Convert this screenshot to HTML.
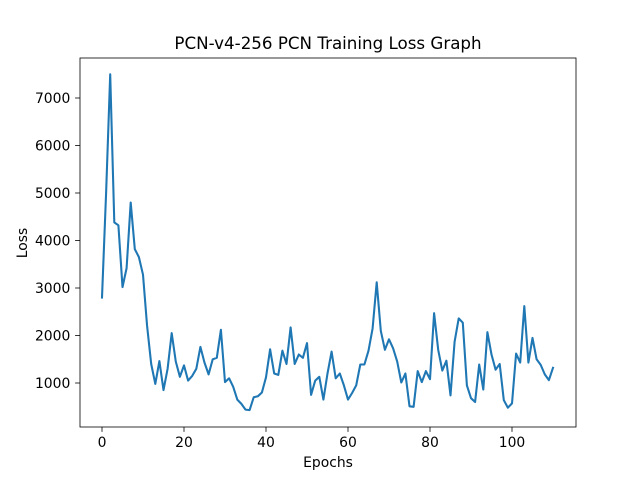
<!DOCTYPE html>
<html><head><meta charset="utf-8"><style>
body{margin:0;background:#fff;font-family:"DejaVu Sans","Liberation Sans",sans-serif}
svg text{font-family:"DejaVu Sans","Liberation Sans",sans-serif;fill:#000}
</style></head><body>
<svg id="chart" width="640" height="480" viewBox="0 0 640 480">
<rect width="640" height="480" fill="#fff"/>
<text x="328" y="49" font-size="16.7" text-anchor="middle">PCN-v4-256 PCN Training Loss Graph</text>
<g id="ticks"></g>
<path id="line" fill="none" stroke="#1f77b4" stroke-width="2.08" stroke-linejoin="round" stroke-linecap="square"/>
<rect x="80" y="58" width="496" height="369" fill="none" stroke="#000" stroke-width="0.8"/>
<text x="328" y="467" font-size="13.9" text-anchor="middle">Epochs</text>
<text x="0" y="0" font-size="13.9" text-anchor="middle" transform="translate(27,243) rotate(-90)">Loss</text>
</svg>
<script>
const lossValues=[2800,5000,7500,4380,4320,3020,3420,4800,3820,3650,3280,2200,1400,980,1460,850,1300,2050,1450,1130,1370,1050,1150,1300,1760,1430,1180,1500,1530,2120,1020,1100,920,650,560,440,430,700,720,800,1120,1710,1200,1170,1680,1400,2170,1400,1600,1530,1840,750,1050,1130,650,1200,1660,1100,1200,950,650,790,950,1390,1390,1680,2150,3120,2100,1700,1920,1730,1450,1010,1200,510,500,1250,1020,1250,1080,2470,1700,1260,1470,740,1870,2360,2270,950,680,600,1390,860,2070,1600,1280,1400,640,480,570,1620,1430,2620,1430,1950,1500,1380,1180,1060,1320];
const xTicks=[0,20,40,60,80,100];
const yTicks=[1000,2000,3000,4000,5000,6000,7000];
const xs=v=>102+v*4.1;
const ys=v=>430.5-v*0.0475;
const NS='http://www.w3.org/2000/svg';
const g=document.getElementById('ticks');
function mk(t,a){const e=document.createElementNS(NS,t);for(const k in a)e.setAttribute(k,a[k]);g.appendChild(e);return e;}
xTicks.forEach(v=>{
 const l=mk('line',{x1:xs(v),x2:xs(v),y1:427,y2:431.9,stroke:'#000','stroke-width':0.8});
 
 
 const t=mk('text',{x:xs(v),y:447,'font-size':13.9,'text-anchor':'middle'});t.textContent=v;
 
 
});
yTicks.forEach(v=>{
 const l=mk('line',{x1:75.1,x2:80,y1:ys(v),y2:ys(v),stroke:'#000','stroke-width':0.8});
 
 
 const t=mk('text',{x:70.3,y:ys(v)+5,'font-size':13.9,'text-anchor':'end'});t.textContent=v;
 
 
});
document.getElementById('line').setAttribute('d',lossValues.map((v,i)=>(i?'L':'M')+xs(i).toFixed(1)+' '+ys(v).toFixed(1)).join(' '));
</script>
</body></html>
